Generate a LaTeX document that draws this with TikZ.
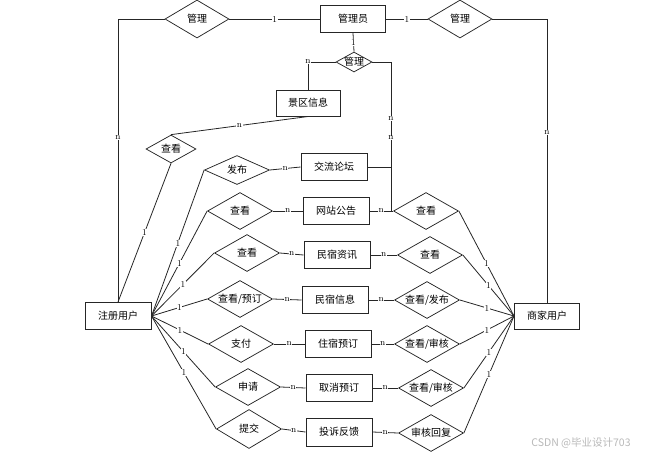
\documentclass[tikz,border=0pt]{standalone}
\usepackage{fontspec}
\usetikzlibrary{shapes.geometric}
\newfontfamily\cjk{Noto Sans CJK SC}
\begin{document}
\begin{tikzpicture}[x=1pt,y=-1pt,
  every label/.style={font=\cjk\fontsize{10}{12}\selectfont, inner sep=0pt},
  ent/.style={draw=black!85, line width=1pt, minimum width=65pt, minimum height=27pt, inner sep=0pt, font=\cjk\fontsize{10}{12}\selectfont},
  rel/.style={diamond, draw=black!85, line width=0.75pt, inner sep=0pt, minimum width=65pt, minimum height=37pt},
  conn/.style={draw=black!85, line width=0.8pt},
  card/.style={fill=white, inner sep=0.5pt, font=\fontsize{9}{9}\selectfont}]
\path[use as bounding box] (0,0) rectangle (651,459);

% top
\node[ent] (admin) at (353,19) {管理员};
\node[rel, minimum width=64pt, minimum height=38pt, label=center:管理] (mgL) at (197,19) {};
\node[rel, minimum width=64pt, minimum height=38pt, label=center:管理] (mgR) at (460,19) {};
\node[rel, minimum width=36pt, minimum height=20pt, label=center:管理] (mgS) at (354,62) {};
\node[ent, minimum width=64pt, minimum height=26pt] (scenic) at (308,103) {景区信息};
\node[rel, minimum width=50pt, minimum height=28pt, label=center:查看] (viewS) at (171,149) {};

% main entities
\node[ent, minimum width=66pt] (user) at (118,316) {注册用户};
\node[ent, minimum height=26pt] (merchant) at (547,316) {商家用户};

% left relations
\node[rel, minimum height=29pt, label=center:发布] (l1) at (237,170) {};
\node[rel, label=center:查看] (l2) at (240,211) {};
\node[rel, label=center:查看] (l3) at (247,253) {};
\node[rel, label=center:查看/预订] (l4) at (240,299) {};
\node[rel, label=center:支付] (l5) at (241,344) {};
\node[rel, label=center:申请] (l6) at (248,387) {};
\node[rel, minimum height=39pt, label=center:提交] (l7) at (249,429) {};

% middle entities
\node[ent, minimum width=66pt] (m1) at (334,167) {交流论坛};
\node[ent, minimum width=66pt] (m2) at (336,211) {网站公告};
\node[ent, minimum width=66pt] (m3) at (337,255) {民宿资讯};
\node[ent, minimum width=66pt] (m4) at (335,300) {民宿信息};
\node[ent, minimum width=66pt] (m5) at (338,344) {住宿预订};
\node[ent, minimum width=66pt] (m6) at (339,388) {取消预订};
\node[ent, minimum width=66pt, minimum height=28pt] (m7) at (339,432) {投诉反馈};

% right relations
\node[rel, label=center:查看] (r2) at (426,211) {};
\node[rel, label=center:查看] (r3) at (430,255) {};
\node[rel, label=center:查看/发布] (r4) at (427,300) {};
\node[rel, label=center:查看/审核] (r5) at (427,344) {};
\node[rel, label=center:查看/审核] (r6) at (431,388) {};
\node[rel, label=center:审核回复] (r7) at (431,433) {};

\coordinate (j1) at (391,211);

% connectors
\draw[conn] (mgL.west) -| node[card,pos=0.71]{n} (user.north);
\draw[conn] (mgL.east) -- node[card]{1} (admin.west);
\draw[conn] (admin.east) -- node[card]{1} (mgR.west);
\draw[conn] (mgR.east) -| node[card,pos=0.7]{n} (merchant.north);
\draw[conn] (admin.south) -- node[card]{1} (mgS.north);
\draw[conn] (mgS.west) -| node[card,pos=0.5]{n} (scenic.north);
\draw[conn] (mgS.east) -| node[card,pos=0.69]{n} node[card,pos=0.755]{n} (j1);
\draw[conn] (m1.east) -- (m1.east -| j1);
\draw[conn] (viewS.north) -- node[card]{n} (scenic.south);
\draw[conn] (viewS.south) -- node[card]{1} (user.north);

\foreach \i in {1,...,7}{
  \draw[conn] (user.east) -- node[card]{1} (l\i.west);
  \draw[conn] (l\i.east) -- node[card]{n} (m\i.west);
}
\foreach \i in {2,...,7}{
  \draw[conn] (m\i.east) -- node[card]{n} (r\i.west);
  \draw[conn] (r\i.east) -- node[card]{1} (merchant.west);
}

\node[text=black!28, font=\cjk\fontsize{10.5}{12}\selectfont] (wm) at (581,443) {CSDN @毕业设计703};
\end{tikzpicture}
\end{document}
